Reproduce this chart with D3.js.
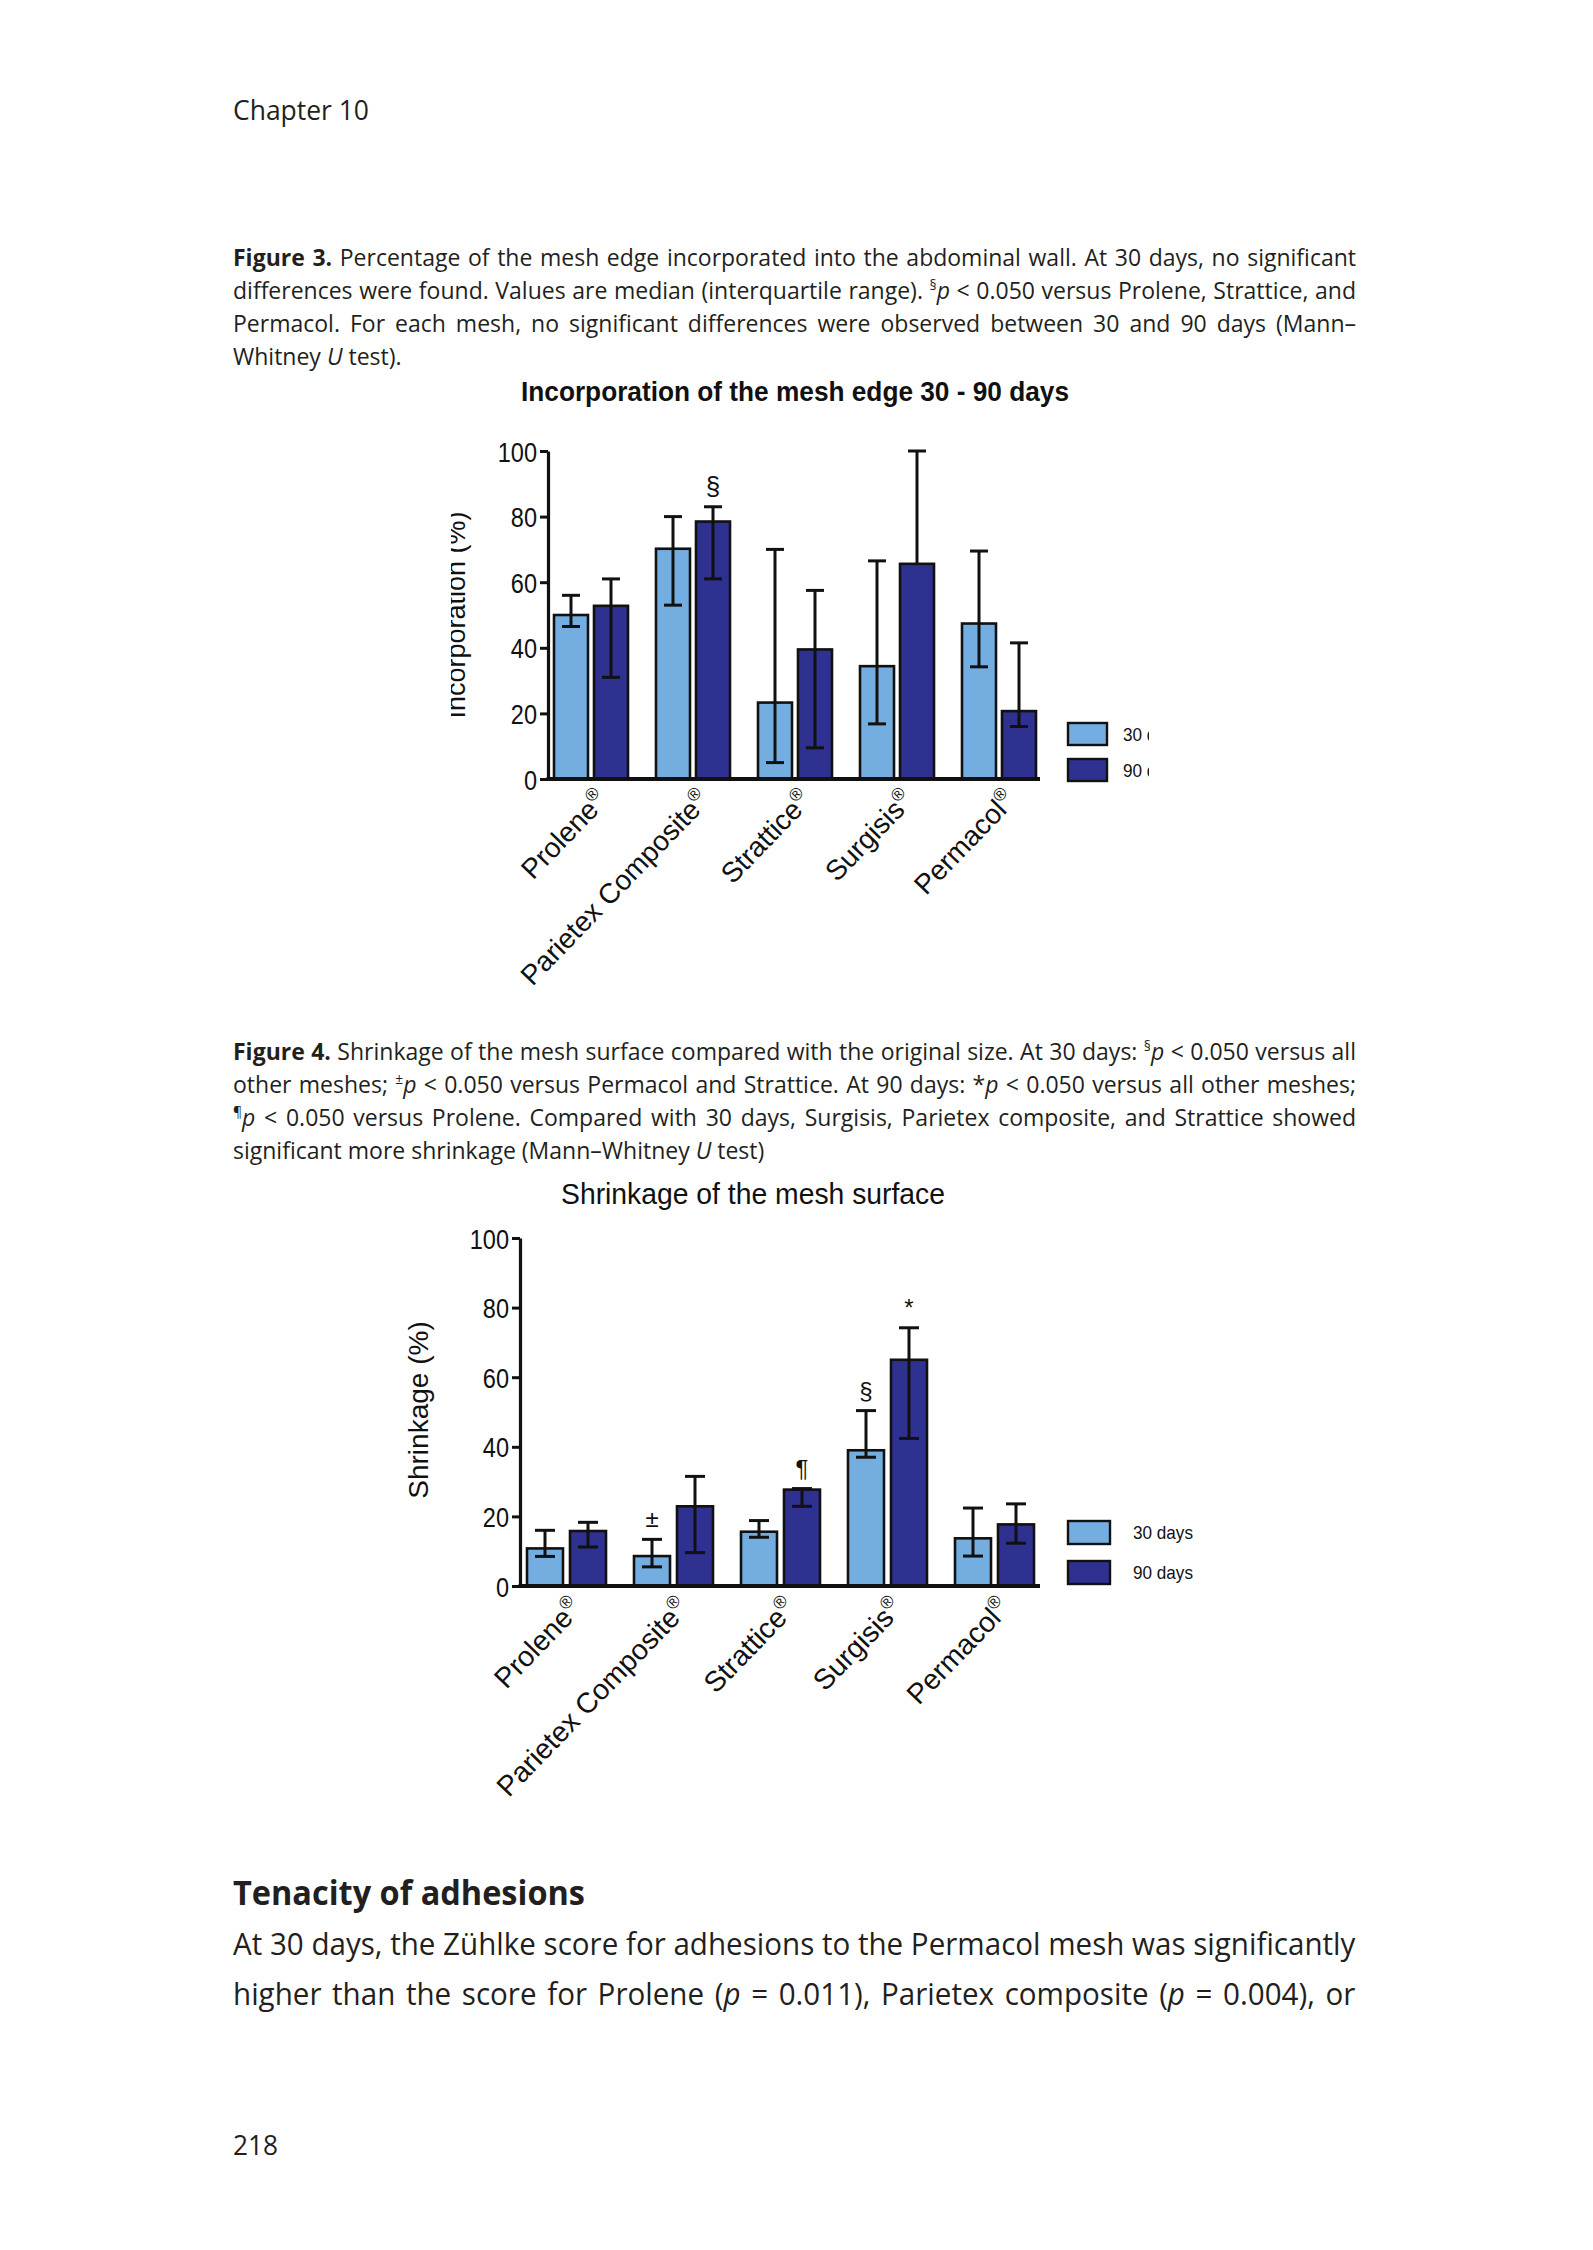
<!DOCTYPE html>
<html><head><meta charset="utf-8">
<script src="https://cdn.jsdelivr.net/npm/d3@7"></script>
<style>body{margin:0;background:#fff}</style>
</head><body><svg id="page" width="1593" height="2250" xmlns="http://www.w3.org/2000/svg"></svg>
<script>
// ---------------- data ----------------
const categories = ["Prolene", "Parietex Composite", "Strattice", "Surgisis", "Permacol"];
const seriesNames = ["30 days", "90 days"];
const yTicks = [0, 20, 40, 60, 80, 100];

// Figure 3: incorporation (%), median with interquartile range
const incorp30 = [50, 70.2, 23.3, 34.4, 47.4];
const incorp30Low = [46.5, 53, 5, 16.8, 34.2];
const incorp30High = [56, 80, 70, 66.5, 69.5];
const incorp90 = [52.8, 78.5, 39.5, 65.6, 20.7];
const incorp90Low = [31, 61, 9.5, 65.6, 16];
const incorp90High = [61, 83, 57.5, 100, 41.5];
const incorpMarks = [{cat: "Parietex Composite", s: 1, sym: "§"}];

// Figure 4: shrinkage (%), median with interquartile range
const shrink30 = [10.8, 8.6, 15.6, 39, 13.7];
const shrink30Low = [8.5, 5.5, 14, 37, 8.6];
const shrink30High = [16, 13.4, 18.8, 50.4, 22.4];
const shrink90 = [15.8, 22.9, 27.7, 65, 17.7];
const shrink90Low = [11.2, 9.6, 22.9, 42.4, 12.3];
const shrink90High = [18.3, 31.5, 28, 74.2, 23.6];
const shrinkMarks = [
  {cat: "Parietex Composite", s: 0, sym: "±"},
  {cat: "Strattice", s: 1, sym: "¶"},
  {cat: "Surgisis", s: 0, sym: "§"},
  {cat: "Surgisis", s: 1, sym: "*"}
];

// text
const caption3 = [
  {j: true, segs: [{t: "Figure 3.", b: 1}, " Percentage of the mesh edge incorporated into the abdominal wall. At 30 days, no significant"]},
  {j: true, segs: ["differences were found. Values are median (interquartile range). ", {t: "§", sup: 1}, {t: "p", i: 1}, " < 0.050 versus Prolene, Strattice, and"]},
  {j: true, segs: ["Permacol. For each mesh, no significant differences were observed between 30 and 90 days (Mann–"]},
  {j: false, segs: ["Whitney ", {t: "U", i: 1}, " test)."]}
];
const caption4 = [
  {j: true, segs: [{t: "Figure 4.", b: 1}, " Shrinkage of the mesh surface compared with the original size. At 30 days: ", {t: "§", sup: 1}, {t: "p", i: 1}, " < 0.050 versus all"]},
  {j: true, segs: ["other meshes; ", {t: "±", sup: 1}, {t: "p", i: 1}, " < 0.050 versus Permacol and Strattice. At 90 days: *", {t: "p", i: 1}, " < 0.050 versus all other meshes;"]},
  {j: true, segs: [{t: "¶", sup: 1}, {t: "p", i: 1}, " < 0.050 versus Prolene. Compared with 30 days, Surgisis, Parietex composite, and Strattice showed"]},
  {j: false, segs: ["significant more shrinkage (Mann–Whitney ", {t: "U", i: 1}, " test)"]}
];
const bodyText = [
  {j: true, segs: ["At 30 days, the Zühlke score for adhesions to the Permacol mesh was significantly"]},
  {j: true, segs: ["higher than the score for Prolene (", {t: "p", i: 1}, " = 0.011), Parietex composite (", {t: "p", i: 1}, " = 0.004), or"]}
];

// ---------------- drawing ----------------
const page = d3.select("#page");
page.append("rect").attr("width", 1593).attr("height", 2250).attr("fill", "#fff");
const defs = page.append("defs");
const TXT = "#231f20";
const SERIF = "'Open Sans', 'Noto Sans', sans-serif";
const ARIAL = "'Liberation Sans', Arial, sans-serif";
const LIGHT = "#74aee0", DARK = "#2e3190";

function para(lines, x, y0, lh, width, size) {
  const els = lines.map((ln, k) => {
    const t = page.append("text").attr("font-family", SERIF).attr("font-size", size).attr("fill", TXT)
      .attr("x", 0).attr("y", 0);
    let shift = 0;
    ln.segs.forEach(s => {
      if (typeof s === "string") s = {t: s};
      const ts = t.append("tspan").text(s.t);
      if (s.b) ts.attr("font-weight", "bold");
      if (s.i) ts.attr("font-style", "italic");
      if (s.sup) {
        ts.attr("font-size", size * 0.6).attr("dy", -size * 0.38);
        shift = size * 0.38;
      } else if (shift) {
        ts.attr("dy", shift); shift = 0;
      }
    });
    return {t, ln, k};
  });
  let sx = 1;
  els.forEach(e => {
    const w = e.t.node().getComputedTextLength();
    e.w = w;
    if (e.ln.j) sx = Math.min(sx, width / w);
  });
  els.forEach(e => {
    e.t.attr("transform", `translate(${x},${y0 + e.k * lh}) scale(${sx},1)`);
    if (e.ln.j) {
      const txt = e.ln.segs.map(s => typeof s === "string" ? s : s.t).join("");
      const n = (txt.match(/ /g) || []).length;
      const ws = (width / sx - e.w) / n;
      e.t.attr("word-spacing", ws);
    }
  });
}

// header
page.append("text").attr("x", 233).attr("y", 120).attr("font-family", SERIF).attr("font-size", 27)
  .attr("fill", TXT).attr("textLength", 136).attr("lengthAdjust", "spacingAndGlyphs").text("Chapter 10");

para(caption3, 233, 266, 33, 1123, 23);
para(caption4, 233, 1060, 33, 1123, 23);

page.append("text").attr("x", 233).attr("y", 1905).attr("font-family", SERIF).attr("font-size", 34)
  .attr("font-weight", "bold").attr("fill", TXT).attr("textLength", 352).attr("lengthAdjust", "spacingAndGlyphs")
  .text("Tenacity of adhesions");
para(bodyText, 233, 1955, 50, 1123, 31);

page.append("text").attr("x", 233).attr("y", 2155).attr("font-family", SERIF).attr("font-size", 27)
  .attr("fill", TXT).attr("textLength", 45).attr("lengthAdjust", "spacingAndGlyphs").text("218");

function condense(sel, ratio) {
  sel.each(function () {
    const w = this.getComputedTextLength();
    d3.select(this).attr("textLength", w * ratio).attr("lengthAdjust", "spacingAndGlyphs");
  });
}

function chart(cfg) {
  const g = page.append("g");
  const n = categories.length;
  const groupW = 2 * cfg.barW + cfg.gap;
  const pi = 1 - groupW / cfg.step;
  const po = (cfg.firstStart - cfg.axisX) / cfg.step;
  const x = d3.scaleBand().domain(categories)
    .range([cfg.axisX, cfg.axisX + cfg.step * (n - pi + 2 * po)])
    .paddingInner(pi).paddingOuter(po);
  const xs = d3.scaleBand().domain([0, 1]).range([0, x.bandwidth()])
    .paddingInner(cfg.gap / (cfg.barW + cfg.gap)).paddingOuter(0);
  const y = d3.scaleLinear().domain([0, 100]).range([cfg.y0, cfg.y100]);

  const series = [
    {vals: cfg.v30, lo: cfg.lo30, hi: cfg.hi30, color: LIGHT},
    {vals: cfg.v90, lo: cfg.lo90, hi: cfg.hi90, color: DARK}
  ];
  const recs = [];
  series.forEach((s, si) => categories.forEach((c, ci) => {
    recs.push({c, si, v: s.vals[ci], lo: s.lo[ci], hi: s.hi[ci], color: s.color});
  }));

  // bars
  g.selectAll("rect.bar").data(recs).join("rect").attr("class", "bar")
    .attr("x", d => x(d.c) + xs(d.si)).attr("width", xs.bandwidth())
    .attr("y", d => y(d.v)).attr("height", d => y(0) - y(d.v))
    .attr("fill", d => d.color).attr("stroke", "#111").attr("stroke-width", 2.6);

  // error bars
  const capW = cfg.capW;
  const eb = g.selectAll("g.err").data(recs).join("g").attr("class", "err")
    .attr("stroke", "#111").attr("stroke-width", 3);
  const cx = d => x(d.c) + xs(d.si) + xs.bandwidth() / 2;
  eb.append("line").attr("x1", cx).attr("x2", cx)
    .attr("y1", d => y(d.lo)).attr("y2", d => y(d.hi));
  eb.append("line").attr("x1", d => cx(d) - capW / 2).attr("x2", d => cx(d) + capW / 2)
    .attr("y1", d => y(d.hi)).attr("y2", d => y(d.hi));
  eb.filter(d => d.lo < d.v).append("line").attr("x1", d => cx(d) - capW / 2).attr("x2", d => cx(d) + capW / 2)
    .attr("y1", d => y(d.lo)).attr("y2", d => y(d.lo));

  // significance marks
  g.selectAll("text.mark").data(cfg.marks).join("text").attr("class", "mark")
    .attr("x", d => x(d.cat) + xs(d.s) + xs.bandwidth() / 2)
    .attr("y", d => {
      const ci = categories.indexOf(d.cat);
      return y(series[d.s].hi[ci]) - cfg.markGap;
    })
    .attr("text-anchor", "middle").attr("font-family", ARIAL).attr("font-size", cfg.markSize)
    .attr("fill", "#111").text(d => d.sym);

  // x axis line
  g.append("line").attr("x1", cfg.axisX - 1.5).attr("x2", cfg.axisEnd).attr("y1", y(0)).attr("y2", y(0))
    .attr("stroke", "#111").attr("stroke-width", 4);

  // y axis
  const ya = g.append("g").attr("transform", `translate(${cfg.axisX},0)`)
    .call(d3.axisLeft(y).tickValues(yTicks).tickSize(8).tickPadding(3).tickSizeOuter(0));
  ya.select(".domain").attr("stroke", "#111").attr("stroke-width", 3.2);
  ya.selectAll(".tick line").attr("stroke", "#111").attr("stroke-width", 3);
  ya.selectAll(".tick text").attr("font-family", ARIAL).attr("font-size", cfg.tickSize).attr("fill", "#111")
    .attr("dy", "0.36em");
  condense(ya.selectAll(".tick text"), 0.84);

  // x labels
  const xl = g.selectAll("text.xl").data(categories).join("text").attr("class", "xl")
    .attr("transform", d => `translate(${x(d) + x.bandwidth() / 2 + cfg.lblDx},${y(0) + cfg.lblDy}) rotate(${cfg.lblRot})`)
    .attr("text-anchor", "end").attr("font-family", ARIAL).attr("font-size", cfg.lblSize).attr("fill", "#111");
  xl.append("tspan").text(d => d);
  xl.append("tspan").attr("font-size", cfg.lblSize * 0.62).attr("dy", -cfg.lblSize * 0.42).text("®");

  // title
  g.append("text").attr("x", cfg.titleX).attr("y", cfg.titleY).attr("text-anchor", "middle")
    .attr("font-family", ARIAL).attr("font-size", cfg.titleSize).attr("font-weight", cfg.titleWeight)
    .attr("fill", "#111").attr("textLength", cfg.titleW).attr("lengthAdjust", "spacingAndGlyphs")
    .text(cfg.title);

  // y label
  const clipId = "clipy" + cfg.id;
  if (cfg.yClip) {
    defs.append("clipPath").attr("id", clipId).append("rect")
      .attr("x", cfg.yClip).attr("y", 0).attr("width", 400).attr("height", 2250);
  }
  const ylG = g.append("g");
  if (cfg.yClip) ylG.attr("clip-path", `url(#${clipId})`);
  ylG.append("text").attr("transform", `translate(${cfg.yLblX},${cfg.yLblY}) rotate(-90)`)
    .attr("text-anchor", "middle").attr("font-family", ARIAL).attr("font-size", cfg.yLblSize)
    .attr("fill", "#111").text(cfg.yLabel);

  // legend
  const lgClip = "cliplg" + cfg.id;
  if (cfg.lgClip) {
    defs.append("clipPath").attr("id", lgClip).append("rect")
      .attr("x", 0).attr("y", 0).attr("width", cfg.lgClip).attr("height", 2250);
  }
  const lg = g.append("g");
  const lgt = g.append("g");
  if (cfg.lgClip) lgt.attr("clip-path", `url(#${lgClip})`);
  seriesNames.forEach((nm, i) => {
    lg.append("rect").attr("x", cfg.lgX).attr("y", cfg.lgY[i]).attr("width", cfg.lgW).attr("height", cfg.lgH)
      .attr("fill", series[i].color).attr("stroke", "#111").attr("stroke-width", 2.4);
    lgt.append("text").attr("x", cfg.lgTX).attr("y", cfg.lgY[i] + cfg.lgH / 2).attr("dy", "0.36em")
      .attr("font-family", ARIAL).attr("font-size", cfg.lgSize).attr("fill", "#111")
      .attr("textLength", cfg.lgTW).attr("lengthAdjust", "spacingAndGlyphs").text(nm);
  });
}

chart({
  id: 1, axisX: 548, axisEnd: 1040, firstStart: 554, step: 102, barW: 34, gap: 6, capW: 18,
  y0: 779, y100: 451,
  v30: incorp30, lo30: incorp30Low, hi30: incorp30High,
  v90: incorp90, lo90: incorp90Low, hi90: incorp90High,
  marks: incorpMarks, markGap: 12, markSize: 26,
  tickSize: 28, lblSize: 28, lblDx: 18, lblDy: 23, lblRot: -46,
  title: "Incorporation of the mesh edge 30 - 90 days", titleX: 795, titleY: 401, titleSize: 27,
  titleWeight: "bold", titleW: 548,
  yLabel: "Incorporation (%)", yLblX: 465, yLblY: 615, yLblSize: 27, yClip: 451,
  lgX: 1068, lgY: [723, 759], lgW: 39, lgH: 22, lgTX: 1123, lgTW: 60, lgSize: 19, lgClip: 1149
});

chart({
  id: 2, axisX: 520, axisEnd: 1040, firstStart: 527, step: 107, barW: 36, gap: 7, capW: 20,
  y0: 1586, y100: 1238,
  v30: shrink30, lo30: shrink30Low, hi30: shrink30High,
  v90: shrink90, lo90: shrink90Low, hi90: shrink90High,
  marks: shrinkMarks, markGap: 12, markSize: 24,
  tickSize: 28, lblSize: 28.5, lblDx: 17, lblDy: 24, lblRot: -46,
  title: "Shrinkage of the mesh surface", titleX: 753, titleY: 1204, titleSize: 29,
  titleWeight: "normal", titleW: 384,
  yLabel: "Shrinkage (%)", yLblX: 428, yLblY: 1410, yLblSize: 28, yClip: null,
  lgX: 1068, lgY: [1521, 1561], lgW: 42, lgH: 23, lgTX: 1133, lgTW: 60, lgSize: 19, lgClip: null
});
</script>
</body></html>
